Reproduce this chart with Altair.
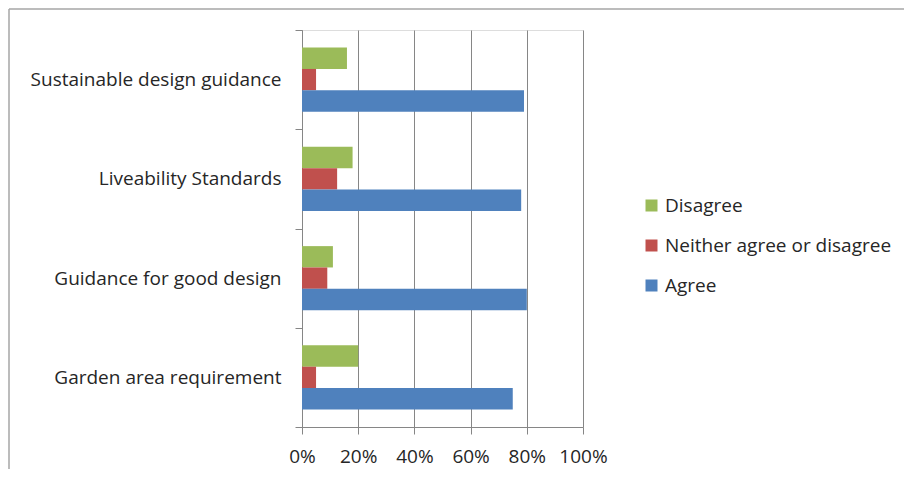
import altair as alt
import pandas as pd

categories = ["Sustainable design guidance", "Liveability Standards",
              "Guidance for good design", "Garden area requirement"]
responses = ["Disagree", "Neither agree or disagree", "Agree"]
disagree = [0.16, 0.18, 0.11, 0.20]
neither = [0.05, 0.125, 0.09, 0.05]
agree = [0.79, 0.78, 0.80, 0.75]
colors = ["#9BBB59", "#C0504D", "#4F81BD"]
x_ticks = [0, 0.2, 0.4, 0.6, 0.8, 1.0]

rows = []
for i, c in enumerate(categories):
    for r, v in zip(responses, [disagree[i], neither[i], agree[i]]):
        rows.append({"category": c, "response": r, "value": v})
df = pd.DataFrame(rows)

FONT = "Open Sans"
TEXT = "#262626"
GRID = "#868686"

bars = alt.Chart(df).mark_bar().encode(
    x=alt.X("value:Q",
            scale=alt.Scale(domain=[0, 1], nice=False, zero=True),
            axis=alt.Axis(values=x_ticks, format=".0%", title=None, grid=True,
                          gridColor=GRID, gridWidth=1, domainColor=GRID,
                          tickColor=GRID, tickSize=7, labelFontSize=19,
                          labelPadding=13, labelColor=TEXT, labelFont=FONT,
                          labelOverlap=False, labelFlush=False)),
    y=alt.Y("category:N", sort=categories,
            scale=alt.Scale(paddingInner=0, paddingOuter=0),
            axis=alt.Axis(title=None, tickBand="extent", domainColor=GRID,
                          tickColor=GRID, tickSize=7, labelFontSize=19,
                          labelPadding=14, labelColor=TEXT, labelFont=FONT,
                          labelLimit=400)),
    yOffset=alt.YOffset("response:N", sort=responses,
                        scale=alt.Scale(paddingInner=0, paddingOuter=0.826)),
    color=alt.Color("response:N", sort=responses,
                    scale=alt.Scale(domain=responses, range=colors),
                    legend=alt.Legend(title=None, orient="none", legendX=340,
                                      legendY=166, symbolType="square",
                                      symbolSize=144, symbolStrokeWidth=0,
                                      labelFontSize=19, labelFont=FONT,
                                      labelColor=TEXT, rowPadding=20,
                                      labelOffset=4, labelLimit=400)),
)

frame_left = alt.Chart(alt.Data(values=[{"k": 1}])).mark_rule(
    color="#A6A6A6", strokeWidth=1.5).encode(
    x=alt.value(-293), y=alt.value(-21), y2=alt.value(460))
frame_top = alt.Chart(alt.Data(values=[{"k": 1}])).mark_rule(
    color="#A6A6A6", strokeWidth=1.5).encode(
    x=alt.value(-293), x2=alt.value(620), y=alt.value(-21))

chart = alt.layer(bars, frame_left, frame_top).properties(
    width=281, height=397,
    autosize=alt.AutoSizeParams(type="none"),
    padding={"left": 294, "top": 22, "right": 321, "bottom": 42},
).configure_view(stroke=None).configure(font=FONT, background="white")

chart.save("out.html", embed_options={"renderer": "svg", "actions": False})
